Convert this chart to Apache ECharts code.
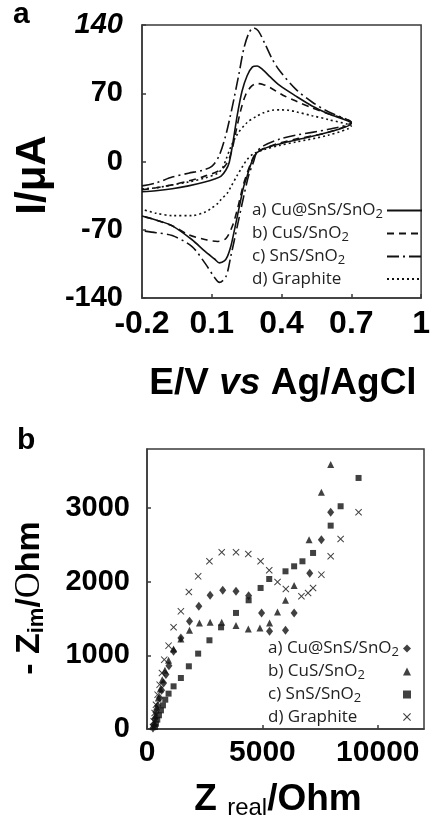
<!DOCTYPE html>
<html>
<head>
<meta charset="utf-8">
<script src="https://cdn.jsdelivr.net/npm/echarts@6/dist/echarts.min.js"></script>
<style>
  html, body { margin: 0; padding: 0; background: #fff; }
  #main { width: 433px; height: 821px; }
</style>
</head>
<body>
<div id="main"></div>
<script>
// ---- panel a: cyclic voltammograms, [E (V), I (uA)], sweep -0.2 -> 0.7 -> -0.2
var cvLabels = ['a) Cu@SnS/SnO2', 'b) CuS/SnO2', 'c) SnS/SnO2', 'd) Graphite'];
var cvTicksX = [-0.2, 0.1, 0.4, 0.7, 1];

var cvCuSnS = [[-0.2,-31],[-0.14,-30],[-0.07,-28],[0,-25],[0.07,-21],[0.112,-18],[0.14,-15],[0.16,-9],[0.175,-1],[0.19,18],[0.21,48],[0.23,72],[0.252,88],[0.275,97],[0.295,98],[0.32,94],[0.35,87],[0.392,78],[0.462,67],[0.531,57],[0.601,49],[0.7,39],
  [0.601,30],[0.462,22],[0.392,18],[0.322,13],[0.294,9],[0.28,4],[0.266,-4],[0.252,-15],[0.238,-25],[0.224,-40],[0.21,-56],[0.196,-72],[0.182,-87],[0.168,-97],[0.154,-102],[0.133,-104],[0.112,-100],[0.07,-92],[0.014,-80],[-0.07,-66],[-0.14,-60],[-0.2,-56]];
var cvCuS = [[-0.2,-29],[-0.14,-27],[-0.07,-24],[0,-20],[0.07,-15],[0.126,-10],[0.155,-5],[0.175,3],[0.19,15],[0.205,32],[0.224,52],[0.245,68],[0.27,77],[0.295,80],[0.32,79],[0.35,76],[0.406,68],[0.462,62],[0.531,55],[0.601,49],[0.7,40],
  [0.601,30],[0.462,23],[0.392,19],[0.322,13],[0.294,9],[0.28,5],[0.266,-3],[0.252,-12],[0.238,-22],[0.224,-35],[0.21,-49],[0.189,-66],[0.161,-79],[0.126,-82],[0.07,-80],[0,-75],[-0.07,-66],[-0.14,-60],[-0.2,-56]];
var cvSnS = [[-0.2,-25],[-0.14,-22],[-0.07,-16],[0,-12],[0.06,-9],[0.1,-5],[0.13,5],[0.158,25],[0.18,47],[0.196,65],[0.217,90],[0.238,116],[0.26,132],[0.28,137],[0.3,134],[0.33,120],[0.36,105],[0.392,93],[0.462,74],[0.531,61],[0.601,51],[0.7,40],
  [0.601,33],[0.462,27],[0.392,23],[0.322,16],[0.294,10],[0.28,0],[0.259,-14],[0.238,-35],[0.21,-66],[0.182,-97],[0.161,-118],[0.133,-124],[0.112,-119],[0.07,-104],[0.014,-87],[-0.07,-76],[-0.14,-73],[-0.2,-71]];
var cvGraphite = [[-0.2,-28],[-0.14,-27],[-0.07,-24],[0,-21],[0.07,-17],[0.126,-12],[0.147,-6],[0.161,2],[0.182,15],[0.21,28],[0.252,40],[0.29,46],[0.322,50],[0.36,52.5],[0.392,53],[0.43,52.5],[0.462,51],[0.531,47],[0.601,43],[0.7,36],
  [0.601,27],[0.462,20],[0.392,16.5],[0.322,12],[0.28,8],[0.252,2],[0.23,-6],[0.21,-14],[0.182,-26],[0.168,-32],[0.14,-39],[0.126,-43],[0.098,-48],[0.07,-52],[0.014,-55.5],[-0.07,-55.5],[-0.14,-53],[-0.2,-49]];

// ---- panel b: Nyquist plots, [Z real (Ohm), -Z im (Ohm)]
var eisLabels = ['a) Cu@SnS/SnO2 ', 'b) CuS/SnO2 ', 'c) SnS/SnO2 ', 'd) Graphite '];
var eisTicksX = [0, 5000, 10000];
var eisTicksY = [0, 1000, 2000, 3000];

var eisCuSnS = [[259,14],[288,59],[331,136],[388,226],[460,317],[547,421],[633,525],[719,624],[820,738],[950,860],[1151,1054],[1468,1235],[1842,1462],[2245,1665],[2734,1815],[3281,1882],[3856,1869],[4403,1810],[4964,1575],[5309,1326],[6000,1339],[6374,1575],[7050,2113],[7554,2570],[7957,2941]];
var eisCuS = [[317,72],[360,181],[417,299],[489,421],[576,543],[662,670],[777,796],[935,932],[1151,1086],[1468,1222],[1842,1339],[2273,1439],[2734,1448],[3237,1448],[3856,1403],[4388,1358],[4892,1371],[5309,1439],[5654,1588],[6000,1747],[6374,1946],[7021,2570],[7554,3213],[7957,3588]];
var eisSnS = [[345,27],[388,72],[446,127],[518,186],[604,253],[691,321],[791,398],[935,480],[1151,579],[1468,692],[1813,851],[2216,1023],[2705,1204],[3209,1380],[3856,1575],[4403,1747],[4921,1914],[5295,2036],[6000,2140],[6374,2208],[6734,2276],[7194,2389],[7957,2760],[8388,3023],[9165,3407]];
var eisGraphite = [[259,27],[288,104],[331,217],[388,330],[460,466],[547,602],[647,760],[748,941],[935,1131],[1151,1380],[1468,1597],[1813,1860],[2216,2072],[2705,2276],[3237,2398],[3856,2398],[4388,2376],[4921,2276],[5295,2154],[5654,1996],[6014,1900],[6690,1801],[6978,1846],[7194,1914],[7554,2095],[7957,2344],[8388,2579],[9165,2941]];

var INK = '#111';
var FRAME = '#3a3a3a';
var SANS = 'Liberation Sans';
var crossPath = 'path://M1,0L5,4L9,0L10,1L6,5L10,9L9,10L5,6L1,10L0,9L4,5L0,1Z';

var myChart = echarts.init(document.getElementById('main'));

// every token gets align:left so the text sits at the left of its fixed-width box
function legendFmt(name) {
  var t = name.trim();
  if (t.indexOf('SnO2') >= 0) {
    return '{t|' + t.replace('SnO2', 'SnO') + '}{sub|2}';
  }
  return '{t|' + t + '}';
}
var legendRich = {
  t: { fontFamily: 'Open Sans', fontSize: 17, lineHeight: 20, color: '#222', align: 'left' },
  sub: { fontFamily: 'Open Sans', fontSize: 13, lineHeight: 12, padding: [8, 0, 0, 0], color: '#222', align: 'left' }
};

function cvLine(name, data, dash) {
  return {
    type: 'line', name: name, xAxisIndex: 0, yAxisIndex: 0,
    data: data, symbol: 'none', showSymbol: false, smooth: 0.3,
    lineStyle: { color: INK, width: 1.6, type: dash },
    itemStyle: { color: INK }, z: 3
  };
}
function eisPoints(name, data, symbol, size) {
  return {
    type: 'scatter', name: name, xAxisIndex: 1, yAxisIndex: 1,
    data: data, symbol: symbol, symbolSize: size,
    itemStyle: { color: INK }
  };
}
function plain(v) { return String(v); }

var tickStyle = { inside: true, length: 4, lineStyle: { color: FRAME, width: 1.5 } };
var axLine = { onZero: false, lineStyle: { color: FRAME, width: 1.5 } };

var option = {
  animation: false,
  backgroundColor: '#fff',
  grid: [
    { left: 142, top: 25, width: 286, height: 273, show: true, borderColor: FRAME, borderWidth: 1.5 },
    { left: 147, top: 449, width: 277, height: 280, show: true, borderColor: FRAME, borderWidth: 1.5 }
  ],
  xAxis: [
    {
      type: 'value', gridIndex: 0, min: -0.2, max: 1, interval: 0.3,
      axisLine: axLine, splitLine: { show: false },
      axisTick: Object.assign({ customValues: cvTicksX }, tickStyle),
      axisLabel: {
        customValues: cvTicksX, margin: 10,
        fontFamily: SANS, fontWeight: 'bold', fontSize: 32, color: '#000',
        formatter: function (v) { return Math.abs(v - 1) < 1e-6 ? '1' : v.toFixed(1); }
      }
    },
    {
      type: 'value', gridIndex: 1, min: 0, max: 12000, interval: 5000,
      axisLine: axLine, splitLine: { show: false },
      axisTick: Object.assign({ customValues: eisTicksX }, tickStyle),
      axisLabel: {
        customValues: eisTicksX, margin: 9, formatter: plain,
        fontFamily: SANS, fontWeight: 'bold', fontSize: 30, color: '#000'
      }
    }
  ],
  yAxis: [
    {
      type: 'value', gridIndex: 0, min: -140, max: 140, interval: 70,
      axisLine: axLine, splitLine: { show: false },
      axisTick: tickStyle,
      axisLabel: {
        margin: 19, fontFamily: SANS, fontWeight: 'bold', fontSize: 29, color: '#000',
        formatter: function (v) { return v === 140 ? '{it|140}' : String(v); },
        rich: { it: { fontFamily: SANS, fontStyle: 'italic', fontWeight: 'bold', fontSize: 29, color: '#000' } }
      }
    },
    {
      type: 'value', gridIndex: 1, min: 0, max: 3800, interval: 1000,
      axisLine: axLine, splitLine: { show: false },
      axisTick: Object.assign({ customValues: eisTicksY }, tickStyle),
      axisLabel: {
        customValues: eisTicksY, margin: 17, formatter: plain,
        fontFamily: SANS, fontWeight: 'bold', fontSize: 29, color: '#000'
      }
    }
  ],
  legend: [
    {
      data: cvLabels, orient: 'vertical', left: 252, top: 200, padding: 0,
      align: 'right', itemWidth: 35, itemHeight: 10, itemGap: 2,
      selectedMode: false, formatter: legendFmt,
      itemStyle: { opacity: 0 },
      textStyle: { fontFamily: 'Open Sans', fontSize: 17, lineHeight: 20, color: '#222', width: 130, rich: legendRich }
    },
    {
      data: eisLabels, orient: 'vertical', left: 268, top: 638, padding: 0,
      align: 'right', itemWidth: 8, itemHeight: 8, itemGap: 2,
      selectedMode: false, formatter: legendFmt,
      textStyle: { fontFamily: 'Open Sans', fontSize: 17, lineHeight: 20, color: '#222', width: 130, rich: legendRich }
    }
  ],
  graphic: [
    { type: 'text', left: 13, top: 0, style: { text: 'a', font: 'bold 30px "Liberation Sans"', fill: '#000' } },
    { type: 'text', left: 17, top: 426, style: { text: 'b', font: 'bold 30px "Liberation Sans"', fill: '#000' } },
    {
      type: 'text', x: 33, y: 175, rotation: Math.PI / 2,
      style: { text: 'I/\u03bcA', font: 'bold 42px "Liberation Sans"', fill: '#000', align: 'center', verticalAlign: 'middle', textAlign: 'center', textVerticalAlign: 'middle' }
    },
    {
      type: 'text', x: 283, y: 384,
      style: {
        text: '{m|E/V }{i|vs}{m| Ag/AgCl}', align: 'center', verticalAlign: 'middle', textAlign: 'center', textVerticalAlign: 'middle',
        rich: {
          m: { fontFamily: SANS, fontWeight: 'bold', fontSize: 37, color: '#000' },
          i: { fontFamily: SANS, fontWeight: 'bold', fontStyle: 'italic', fontSize: 37, color: '#000' }
        }
      }
    },
    {
      type: 'text', x: 30, y: 598, rotation: Math.PI / 2,
      style: {
        text: '{m|- Z}{s|im}{m|/}{o|O}{m|hm}', align: 'center', verticalAlign: 'middle', textAlign: 'center', textVerticalAlign: 'middle',
        rich: {
          m: { fontFamily: SANS, fontWeight: 'bold', fontSize: 34, lineHeight: 40, color: '#000' },
          s: { fontFamily: SANS, fontWeight: 'bold', fontSize: 22, lineHeight: 22, padding: [14, 0, 0, 0], color: '#000' },
          o: { fontFamily: 'Liberation Serif', fontSize: 36, lineHeight: 40, color: '#000' }
        }
      }
    },
    {
      type: 'text', x: 278, y: 800,
      style: {
        text: '{m|Z }{s|real}{m|/Ohm}', align: 'center', verticalAlign: 'middle', textAlign: 'center', textVerticalAlign: 'middle',
        rich: {
          m: { fontFamily: SANS, fontWeight: 'bold', fontSize: 37, lineHeight: 42, color: '#000' },
          s: { fontFamily: SANS, fontSize: 24, lineHeight: 24, padding: [16, 0, 0, 0], color: '#000' }
        }
      }
    }
  ],
  series: [
    cvLine(cvLabels[0], cvCuSnS, 'solid'),
    cvLine(cvLabels[1], cvCuS, [7, 5]),
    cvLine(cvLabels[2], cvSnS, [12, 4, 2, 4]),
    cvLine(cvLabels[3], cvGraphite, [2, 3]),
    eisPoints(eisLabels[0], eisCuSnS, 'diamond', [7, 9]),
    eisPoints(eisLabels[1], eisCuS, 'triangle', 7),
    eisPoints(eisLabels[2], eisSnS, 'rect', 6),
    eisPoints(eisLabels[3], eisGraphite, crossPath, 7)
  ]
};

myChart.setOption(option);
</script>
</body>
</html>
